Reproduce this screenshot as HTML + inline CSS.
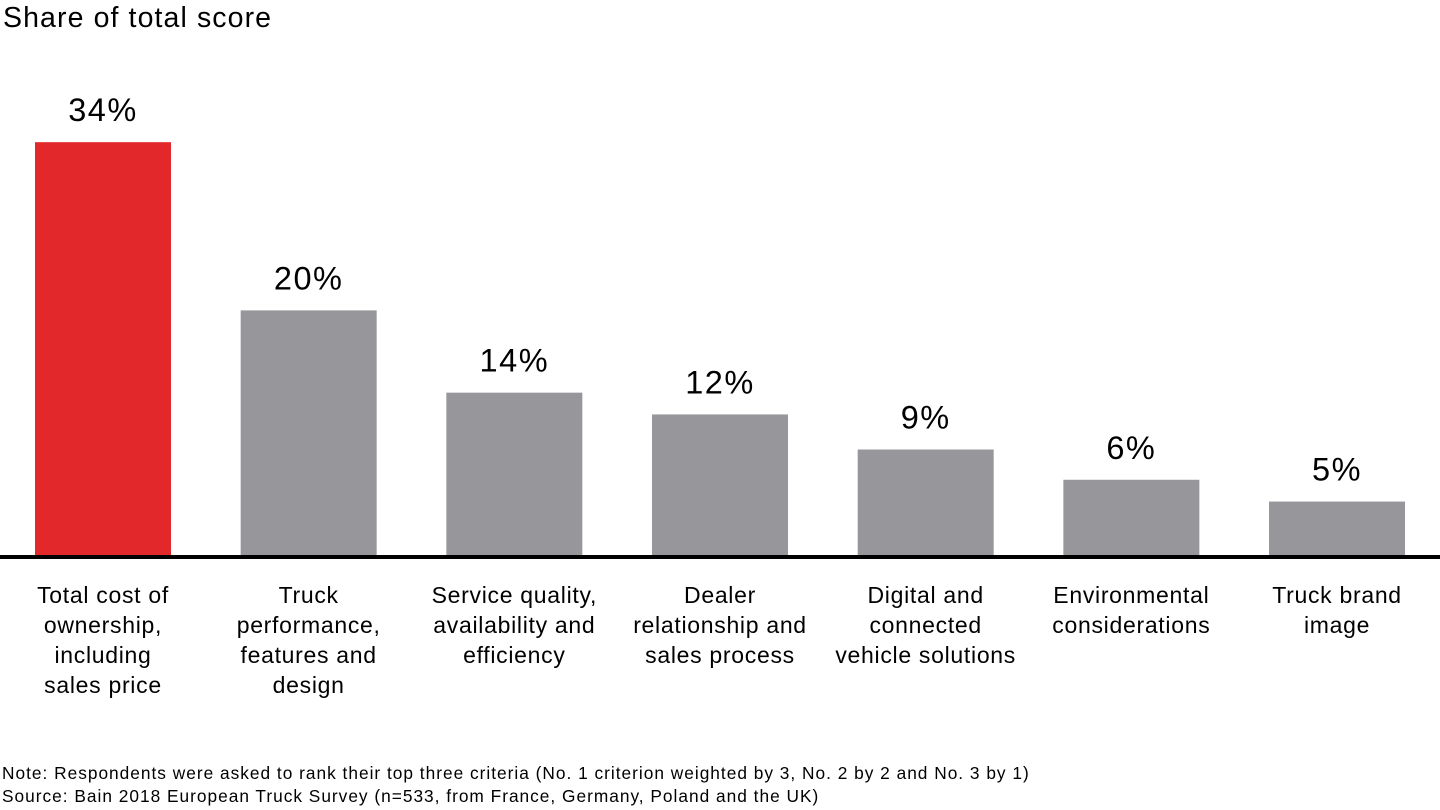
<!DOCTYPE html>
<html><head><meta charset="utf-8"><style>
body{margin:0;width:1440px;height:810px;background:#fff;font-family:"Liberation Sans",Arial,sans-serif;overflow:hidden;position:relative}
svg{position:absolute;left:0;top:0}
</style></head><body>
<svg width="1440" height="810" id="chart">
<text x="3" y="27" font-size="28.5" letter-spacing="1.1" fill="#000">Share of total score</text>
<g id="bars"></g>
<rect x="0" y="555" width="1440" height="4" fill="#000"/>
<text x="2" y="779" font-size="17.3" letter-spacing="1.0" fill="#000">Note: Respondents were asked to rank their top three criteria (No. 1 criterion weighted by 3, No. 2 by 2 and No. 3 by 1)</text>
<text x="2" y="802" font-size="17.3" letter-spacing="1.0" fill="#000">Source: Bain 2018 European Truck Survey (n=533, from France, Germany, Poland and the UK)</text>
</svg>
<script>
const categories=[["Total cost of","ownership,","including","sales price"],["Truck","performance,","features and","design"],["Service quality,","availability and","efficiency"],["Dealer","relationship and","sales process"],["Digital and","connected","vehicle solutions"],["Environmental","considerations"],["Truck brand","image"]];
const values=[34.2,20.3,13.5,11.7,8.8,6.3,4.5];
const valueLabels=["34%","20%","14%","12%","9%","6%","5%"];
const NS="http://www.w3.org/2000/svg";
const g=document.getElementById('bars');
const baseY=556, pxPer=12.1, x0=35, step=205.67, bw=136;
function y(v){return baseY-v*pxPer;}
function xc(i){return x0+i*step;}
values.forEach((v,i)=>{
  const r=document.createElementNS(NS,'rect');
  r.setAttribute('x',xc(i));r.setAttribute('y',y(v));r.setAttribute('width',bw);r.setAttribute('height',baseY-y(v));
  r.setAttribute('fill',i===0?'#E2282A':'#97979B');
  
  
  g.appendChild(r);
  const t=document.createElementNS(NS,'text');
  t.setAttribute('x',xc(i)+bw/2);t.setAttribute('y',y(v)-21);t.setAttribute('font-size','32.5');t.setAttribute('text-anchor','middle');
  t.setAttribute('letter-spacing','1.5');
  t.textContent=valueLabels[i];
  
  
  g.appendChild(t);
  categories[i].forEach((line,j)=>{
    const c=document.createElementNS(NS,'text');
    c.setAttribute('x',xc(i)+bw/2);c.setAttribute('y',603+j*30);c.setAttribute('font-size','23');c.setAttribute('text-anchor','middle');
    c.setAttribute('letter-spacing','0.7');
    c.textContent=line;
    
    
    g.appendChild(c);
  });
});
</script>
</body></html>
